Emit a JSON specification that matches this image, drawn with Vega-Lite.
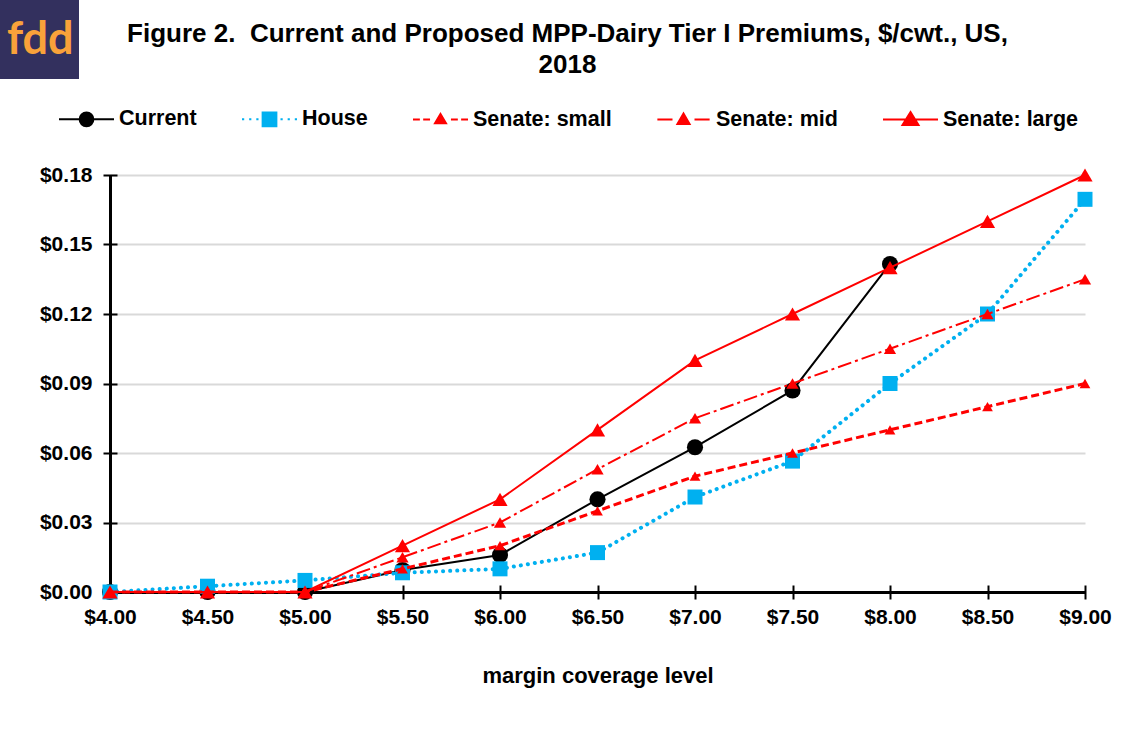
{
  "$schema": "https://vega.github.io/schema/vega-lite/v6.json",
  "width": 975,
  "height": 417,
  "autosize": {"type": "none"},
  "padding": {"left": 110, "top": 175, "right": 50, "bottom": 140},
  "background": "white",
  "config": {
    "view": {"stroke": null},
    "font": "Liberation Sans",
    "mark": {"clip": false}
  },
  "title": {
    "text": ["Figure 2.\u00a0 Current and Proposed MPP-Dairy Tier I Premiums, $/cwt., US,", "2018"],
    "font": "Liberation Sans",
    "fontSize": 26,
    "fontWeight": "bold",
    "color": "black",
    "anchor": "middle",
    "frame": "group",
    "dx": -30,
    "offset": -77.5,
    "lineHeight": 31
  },
  "data": {
    "values": [
      {"x": 4.0, "series": "Current", "v": 0},
      {"x": 4.5, "series": "Current", "v": 0},
      {"x": 5.0, "series": "Current", "v": 0},
      {"x": 5.5, "series": "Current", "v": 0.0095},
      {"x": 6.0, "series": "Current", "v": 0.016},
      {"x": 6.5, "series": "Current", "v": 0.040},
      {"x": 7.0, "series": "Current", "v": 0.0625},
      {"x": 7.5, "series": "Current", "v": 0.087},
      {"x": 8.0, "series": "Current", "v": 0.1416},
      {"x": 4.0, "series": "House", "v": 0},
      {"x": 4.5, "series": "House", "v": 0.0025},
      {"x": 5.0, "series": "House", "v": 0.005},
      {"x": 5.5, "series": "House", "v": 0.0083},
      {"x": 6.0, "series": "House", "v": 0.010},
      {"x": 6.5, "series": "House", "v": 0.017},
      {"x": 7.0, "series": "House", "v": 0.041},
      {"x": 7.5, "series": "House", "v": 0.0565},
      {"x": 8.0, "series": "House", "v": 0.090},
      {"x": 8.5, "series": "House", "v": 0.120},
      {"x": 9.0, "series": "House", "v": 0.1695},
      {"x": 4.0, "series": "Senate: small", "v": 0},
      {"x": 4.5, "series": "Senate: small", "v": 0},
      {"x": 5.0, "series": "Senate: small", "v": 0},
      {"x": 5.5, "series": "Senate: small", "v": 0.010},
      {"x": 6.0, "series": "Senate: small", "v": 0.020},
      {"x": 6.5, "series": "Senate: small", "v": 0.035},
      {"x": 7.0, "series": "Senate: small", "v": 0.050},
      {"x": 7.5, "series": "Senate: small", "v": 0.060},
      {"x": 8.0, "series": "Senate: small", "v": 0.070},
      {"x": 8.5, "series": "Senate: small", "v": 0.080},
      {"x": 9.0, "series": "Senate: small", "v": 0.090},
      {"x": 4.0, "series": "Senate: mid", "v": 0},
      {"x": 4.5, "series": "Senate: mid", "v": 0},
      {"x": 5.0, "series": "Senate: mid", "v": 0},
      {"x": 5.5, "series": "Senate: mid", "v": 0.015},
      {"x": 6.0, "series": "Senate: mid", "v": 0.030},
      {"x": 6.5, "series": "Senate: mid", "v": 0.053},
      {"x": 7.0, "series": "Senate: mid", "v": 0.075},
      {"x": 7.5, "series": "Senate: mid", "v": 0.090},
      {"x": 8.0, "series": "Senate: mid", "v": 0.105},
      {"x": 8.5, "series": "Senate: mid", "v": 0.120},
      {"x": 9.0, "series": "Senate: mid", "v": 0.135},
      {"x": 4.0, "series": "Senate: large", "v": 0},
      {"x": 4.5, "series": "Senate: large", "v": 0},
      {"x": 5.0, "series": "Senate: large", "v": 0},
      {"x": 5.5, "series": "Senate: large", "v": 0.020},
      {"x": 6.0, "series": "Senate: large", "v": 0.040},
      {"x": 6.5, "series": "Senate: large", "v": 0.070},
      {"x": 7.0, "series": "Senate: large", "v": 0.100},
      {"x": 7.5, "series": "Senate: large", "v": 0.120},
      {"x": 8.0, "series": "Senate: large", "v": 0.140},
      {"x": 8.5, "series": "Senate: large", "v": 0.160},
      {"x": 9.0, "series": "Senate: large", "v": 0.180}
    ]
  },
  "resolve": {"axis": {"x": "independent", "y": "independent"}},
  "layer": [
    {
      "transform": [{"filter": "datum.series === 'Current'"}],
      "mark": {"type": "line", "color": "black", "strokeWidth": 2,
               "point": {"filled": true, "shape": "circle", "size": 260, "color": "black"}},
      "encoding": {
        "x": {"field": "x", "type": "quantitative",
              "scale": {"domain": [4, 9], "nice": false, "zero": false},
              "axis": {"orient": "bottom", "values": [4, 4.5, 5, 5.5, 6, 6.5, 7, 7.5, 8, 8.5, 9],
                       "format": "$.2f", "grid": false, "domain": true, "domainColor": "black", "domainWidth": 3,
                       "ticks": false, "tickSize": 0, "labelPadding": 14, "labelFlush": false, "labelOverlap": false,
                       "labelFont": "Liberation Sans", "labelFontSize": 21, "labelFontWeight": "bold", "labelColor": "black",
                       "title": "margin coverage level", "titleFont": "Liberation Sans", "titleFontSize": 22,
                       "titleFontWeight": "bold", "titleColor": "black", "titlePadding": 38}},
        "y": {"field": "v", "type": "quantitative",
              "scale": {"domain": [0, 0.18], "nice": false},
              "axis": {"orient": "left", "values": [0, 0.03, 0.06, 0.09, 0.12, 0.15, 0.18],
                       "format": "$.2f", "grid": true, "gridColor": "#D9D9D9", "gridWidth": 2,
                       "domain": true, "domainColor": "black", "domainWidth": 3,
                       "ticks": false, "tickSize": 0, "labelPadding": 18, "labelFlush": false, "labelOverlap": false,
                       "labelFont": "Liberation Sans", "labelFontSize": 21, "labelFontWeight": "bold", "labelColor": "black",
                       "title": null}}
      }
    },
    {
      "transform": [{"filter": "datum.series === 'House'"}],
      "mark": {"type": "line", "color": "#00B0F0", "strokeWidth": 4, "strokeDash": [0.1, 7], "strokeCap": "round",
               "point": {"filled": true, "shape": "square", "size": 225, "color": "#00B0F0"}},
      "encoding": {
        "x": {"field": "x", "type": "quantitative",
              "scale": {"domain": [4, 9], "nice": false, "zero": false},
              "axis": {"orient": "bottom", "values": [4, 4.5, 5, 5.5, 6, 6.5, 7, 7.5, 8, 8.5, 9],
                       "grid": false, "domain": false, "labels": false, "ticks": true, "tickSize": 14, "offset": -7,
                       "tickWidth": 2, "tickColor": "black", "title": null}},
        "y": {"field": "v", "type": "quantitative",
              "scale": {"domain": [0, 0.18], "nice": false},
              "axis": {"orient": "left", "values": [0, 0.03, 0.06, 0.09, 0.12, 0.15, 0.18],
                       "grid": false, "domain": false, "labels": false, "ticks": true, "tickSize": 14, "offset": -7,
                       "tickWidth": 2, "tickColor": "black", "title": null}}
      }
    },
    {
      "transform": [{"filter": "datum.series === 'Senate: small'"}],
      "mark": {"type": "line", "color": "#FF0000", "strokeWidth": 3, "strokeDash": [8, 4],
               "point": {"filled": true, "shape": "triangle-up", "size": 115, "color": "#FF0000"}},
      "encoding": {
        "x": {"field": "x", "type": "quantitative", "scale": {"domain": [4, 9], "nice": false, "zero": false}, "axis": null},
        "y": {"field": "v", "type": "quantitative", "scale": {"domain": [0, 0.18], "nice": false}, "axis": null}
      }
    },
    {
      "transform": [{"filter": "datum.series === 'Senate: mid'"}],
      "mark": {"type": "line", "color": "#FF0000", "strokeWidth": 2, "strokeDash": [14, 4, 3, 4],
               "point": {"filled": true, "shape": "triangle-up", "size": 150, "color": "#FF0000"}},
      "encoding": {
        "x": {"field": "x", "type": "quantitative", "scale": {"domain": [4, 9], "nice": false, "zero": false}, "axis": null},
        "y": {"field": "v", "type": "quantitative", "scale": {"domain": [0, 0.18], "nice": false}, "axis": null}
      }
    },
    {
      "transform": [{"filter": "datum.series === 'Senate: large'"}],
      "mark": {"type": "line", "color": "#FF0000", "strokeWidth": 2,
               "point": {"filled": true, "shape": "triangle-up", "size": 230, "color": "#FF0000"}},
      "encoding": {
        "x": {"field": "x", "type": "quantitative", "scale": {"domain": [4, 9], "nice": false, "zero": false}, "axis": null},
        "y": {"field": "v", "type": "quantitative", "scale": {"domain": [0, 0.18], "nice": false}, "axis": null}
      }
    },
    {
      "transform": [{"filter": "false"}],
      "mark": {"type": "point", "filled": true, "strokeWidth": 2, "opacity": 1},
      "encoding": {
        "fill": {"field": "series", "type": "nominal",
                 "scale": {"domain": ["Current", "House", "Senate: small", "Senate: mid", "Senate: large"],
                           "range": ["black", "#00B0F0", "#FF0000", "#FF0000", "#FF0000"]},
                 "legend": {"orient": "none", "legendX": -52, "legendY": -84.5, "direction": "horizontal", "columns": 5,
                            "columnPadding": 41, "symbolSize": 3025, "symbolStrokeWidth": 2, "labelOffset": 4,
                            "labelFont": "Liberation Sans", "labelFontSize": 21.5, "labelFontWeight": "bold",
                            "labelColor": "black", "labelLimit": 400, "title": null, "padding": 0}},
        "stroke": {"field": "series", "type": "nominal",
                   "scale": {"domain": ["Current", "House", "Senate: small", "Senate: mid", "Senate: large"],
                             "range": ["black", "#00B0F0", "#FF0000", "#FF0000", "#FF0000"]},
                   "legend": {"orient": "none", "legendX": -52, "legendY": -84.5, "direction": "horizontal", "columns": 5,
                              "columnPadding": 41, "symbolSize": 3025, "symbolStrokeWidth": 2, "labelOffset": 4,
                              "labelFont": "Liberation Sans", "labelFontSize": 21.5, "labelFontWeight": "bold",
                              "labelColor": "black", "labelLimit": 400, "title": null, "padding": 0}},
        "shape": {"field": "series", "type": "nominal",
                  "scale": {"domain": ["Current", "House", "Senate: small", "Senate: mid", "Senate: large"],
                            "range": [
                              "M-1,0L1,0M-0.25,0A0.25,0.25,0,1,0,0.25,0A0.25,0.25,0,1,0,-0.25,0Z",
                              "M-1,0L-0.92,0M-0.74,0L-0.66,0M-0.48,0L-0.4,0M0.4,0L0.48,0M0.66,0L0.74,0M0.92,0L1,0M-0.25,-0.25L0.25,-0.25L0.25,0.25L-0.25,0.25Z",
                              "M-1,0L-0.75,0M-0.63,0L-0.38,0M0.38,0L0.63,0M0.75,0L1,0M0,-0.2L0.2,0.14L-0.2,0.14Z",
                              "M-0.95,0L-0.4,0M0.4,0L0.95,0M0,-0.22L0.22,0.16L-0.22,0.16Z",
                              "M-1,0L1,0M0,-0.27L0.29,0.2L-0.29,0.2Z"
                            ]},
                  "legend": {"orient": "none", "legendX": -52, "legendY": -84.5, "direction": "horizontal", "columns": 5,
                             "columnPadding": 41, "symbolSize": 3025, "symbolStrokeWidth": 2, "labelOffset": 4,
                             "labelFont": "Liberation Sans", "labelFontSize": 21.5, "labelFontWeight": "bold",
                             "labelColor": "black", "labelLimit": 400, "title": null, "padding": 0}},
        "opacity": {"field": "logo", "type": "nominal",
                    "scale": {"domain": ["fdd"], "range": [1, 1]},
                    "legend": {"orient": "none", "legendX": -110, "legendY": -175, "title": null, "padding": 0,
                               "symbolType": "square", "symbolSize": 6240, "symbolFillColor": "#33305E",
                               "symbolStrokeColor": "#33305E", "symbolStrokeWidth": 0,
                               "labelOffset": -72, "labelFont": "Lato", "labelFontSize": 45, "labelFontWeight": "bold",
                               "labelColor": "#F9A23A", "labelLimit": 300}}
      }
    }
  ]
}
